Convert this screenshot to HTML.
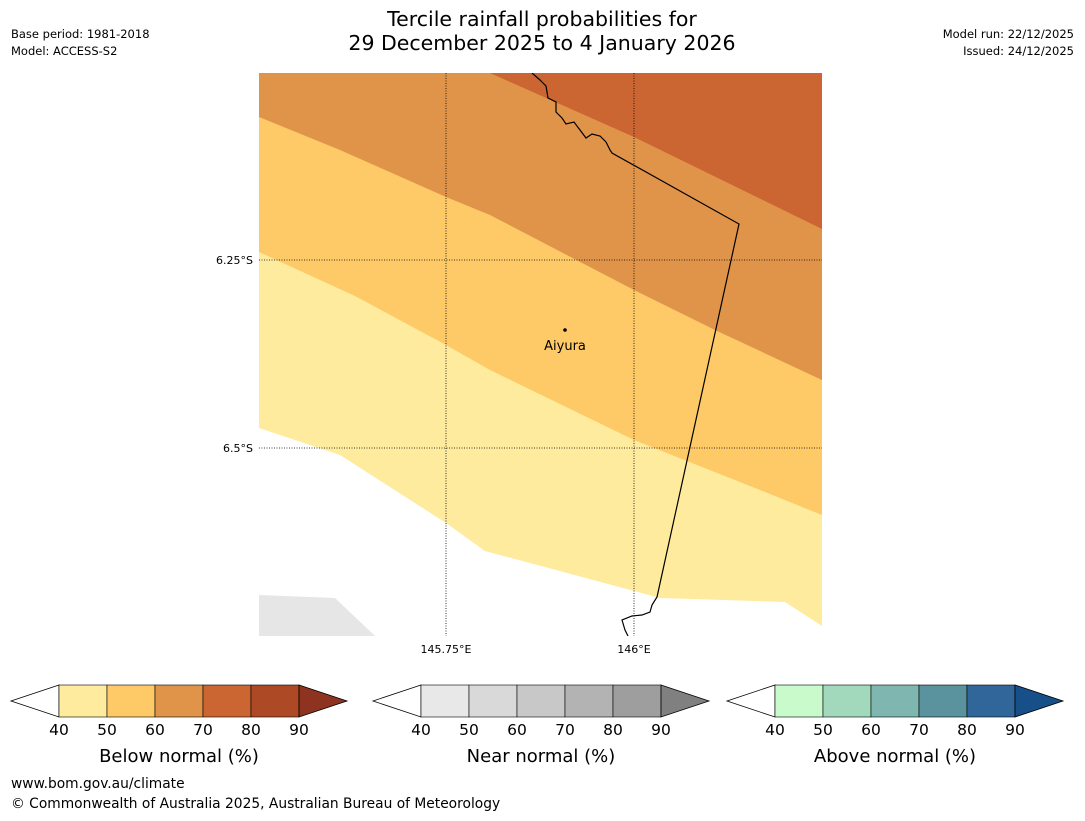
<!DOCTYPE html>
<html><head><meta charset="utf-8"><style>
body{margin:0;background:#fff;width:1085px;height:816px;overflow:hidden;font-family:"Liberation Sans","DejaVu Sans",sans-serif;}
svg text{font-family:"DejaVu Sans","Liberation Sans",sans-serif;}
</style></head><body>
<svg width="1085" height="816" xmlns="http://www.w3.org/2000/svg">
<text x="542" y="26" font-size="20.5" text-anchor="middle">Tercile rainfall probabilities for</text>
<text x="542" y="50" font-size="20.5" text-anchor="middle">29 December 2025 to 4 January 2026</text>
<text x="11" y="38" font-size="11.5">Base period: 1981-2018</text>
<text x="11" y="55" font-size="11.5">Model: ACCESS-S2</text>
<text x="1074" y="38" font-size="11.5" text-anchor="end">Model run: 22/12/2025</text>
<text x="1074" y="55" font-size="11.5" text-anchor="end">Issued: 24/12/2025</text>
<g>
<clipPath id="mc"><rect x="259" y="73" width="563" height="563"/></clipPath>
<g clip-path="url(#mc)">
<rect x="259" y="73" width="563" height="563" fill="#fff"/>
<polygon fill="#FFEB9E" points="259,73 822,73 822,626 785,602 660,598 485,551 446,523 340,455 259,428"/>
<polygon fill="#FDCA67" points="259,73 822,73 822,515 760,490 634,440 490,370 446,345 355,296 259,252"/>
<polygon fill="#E0944A" points="259,73 822,73 822,380 715,330 634,290 490,215 446,197 340,150 259,117"/>
<polygon fill="#CB6532" points="490,73 822,73 822,229 634,137"/>
<polygon fill="#E6E6E6" points="259,595 335,598 375,636 259,636"/>
<polyline fill="none" stroke="#000" stroke-width="1.2" points="532,73 540,80 546,86 548,98 556,102 556,112 562,118 566,124 574,122 580,130 586,138 592,134 600,136 606,142 610,150 612,153 739,224 657,597 652,605 650,612 642,615 632,616 622,620 625,630 628,636"/>
</g>
<g stroke="#000" stroke-width="0.8" stroke-dasharray="1,1.5">
<line x1="446" y1="73" x2="446" y2="636"/><line x1="634" y1="73" x2="634" y2="636"/>
<line x1="259" y1="260" x2="822" y2="260"/><line x1="259" y1="448" x2="822" y2="448"/>
</g>
<text x="253" y="264" font-size="11" text-anchor="end">6.25°S</text>
<text x="253" y="452" font-size="11" text-anchor="end">6.5°S</text>
<text x="446" y="653" font-size="11" text-anchor="middle">145.75°E</text>
<text x="634" y="653" font-size="11" text-anchor="middle">146°E</text>
<circle cx="565" cy="330" r="1.8" fill="#000"/>
<text x="565" y="350" font-size="13" text-anchor="middle">Aiyura</text>
</g>
<g id="bars"></g>
<text x="11" y="788" font-size="13.8">www.bom.gov.au/climate</text>
<text x="11" y="808" font-size="13.8">© Commonwealth of Australia 2025, Australian Bureau of Meteorology</text>
</svg>
<script>
const ticks=[40,50,60,70,80,90];
const barTitles=["Below normal (%)","Near normal (%)","Above normal (%)"];
const barColors=[["#FFEB9E","#FDCA67","#E0944A","#CB6532","#AD4A25","#8E3320"],["#E8E8E8","#D9D9D9","#C8C8C8","#B3B3B3","#9E9E9E","#808080"],["#C9FACB","#A2D9BD","#7FB6B0","#5A929E","#31669A","#174F88"]];
const starts=[59,421,775];
const ns="http://www.w3.org/2000/svg",g=document.getElementById('bars');
function mk(t,a){const e=document.createElementNS(ns,t);for(const k in a)e.setAttribute(k,a[k]);g.appendChild(e);return e;}
const y0=685,h=32,seg=48;
starts.forEach((x0,i)=>{
 const w=seg*(ticks.length-1);
 let e=mk('polygon',{points:`${x0},${y0} ${x0-seg},${y0+h/2} ${x0},${y0+h}`,fill:'#fff',stroke:'#000','stroke-width':0.8});
 
 
 for(let j=0;j<ticks.length-1;j++){
  e=mk('rect',{x:x0+j*seg,y:y0,width:seg,height:h,fill:barColors[i][j],stroke:'#000','stroke-width':0.6});
  
  
 }
 e=mk('polygon',{points:`${x0+w},${y0} ${x0+w+seg},${y0+h/2} ${x0+w},${y0+h}`,fill:barColors[i][5],stroke:'#000','stroke-width':0.8});
 
 
 ticks.forEach((t,j)=>{
  e=mk('text',{x:x0+j*seg,y:735,'font-size':15.5,'text-anchor':'middle'});e.textContent=t;
  
  
 });
 e=mk('text',{x:x0+w/2,y:762,'font-size':18,'text-anchor':'middle'});e.textContent=barTitles[i];
 
 
});
</script>
</body></html>
